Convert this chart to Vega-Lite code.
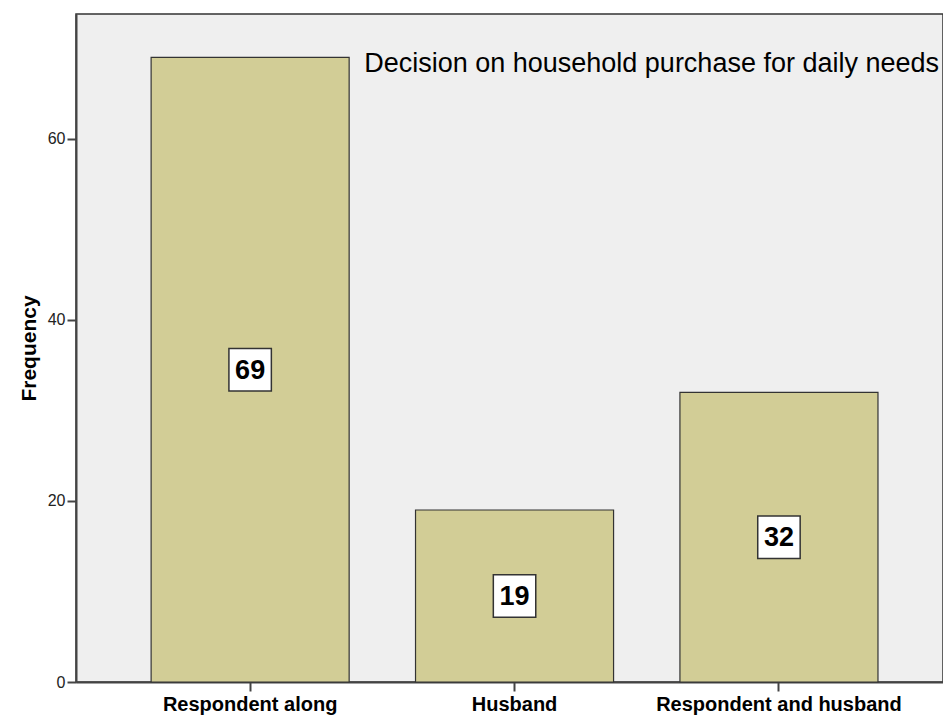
{
  "$schema": "https://vega.github.io/schema/vega-lite/v6.json",
  "autosize": "none",
  "width": 867,
  "height": 668,
  "padding": {"left": 76, "top": 14, "right": 0, "bottom": 38},
  "background": "white",
  "config": {
    "view": {"fill": "#EFEFEF", "stroke": "#333333", "strokeWidth": 1.5},
    "font": "Liberation Sans"
  },
  "data": {
    "values": [
      {"category": "Respondent along", "count": 69, "half": 34.5},
      {"category": "Husband", "count": 19, "half": 9.5},
      {"category": "Respondent and husband", "count": 32, "half": 16}
    ]
  },
  "encoding": {
    "x": {
      "field": "category",
      "type": "nominal",
      "sort": null,
      "scale": {"paddingInner": 0.251, "paddingOuter": 0.265, "align": 0.536},
      "axis": {
        "title": null,
        "labelAngle": 0,
        "labelLimit": 0,
        "labelFont": "Liberation Sans",
        "labelFontSize": 20,
        "labelFontWeight": "bold",
        "labelColor": "#000000",
        "labelPadding": 3,
        "tickSize": 9,
        "tickWidth": 2,
        "tickColor": "#444444",
        "domainColor": "#444444",
        "domainWidth": 2
      }
    }
  },
  "layer": [
    {
      "mark": {"type": "bar", "fill": "#D2CD96", "stroke": "#333333", "strokeWidth": 1.2},
      "encoding": {
        "y": {
          "field": "count",
          "type": "quantitative",
          "scale": {"domain": [0, 73.8], "nice": false, "zero": true},
          "axis": {
            "title": "Frequency",
            "titleFont": "Liberation Sans",
            "titleFontSize": 21,
            "titleFontWeight": "bold",
            "titleColor": "#000000",
            "titlePadding": 8,
            "values": [0, 20, 40, 60],
            "grid": false,
            "labelFont": "Liberation Sans",
            "labelFontSize": 16,
            "labelColor": "#222222",
            "labelPadding": 2,
            "tickSize": 9,
            "tickWidth": 2,
            "tickColor": "#444444",
            "domainColor": "#444444",
            "domainWidth": 2
          }
        }
      }
    },
    {
      "mark": {"type": "point", "shape": "square", "size": 1800, "filled": true, "fill": "#FFFFFF", "stroke": "#333333", "strokeWidth": 1.5, "opacity": 1},
      "encoding": {
        "y": {"field": "half", "type": "quantitative"}
      }
    },
    {
      "mark": {"type": "text", "font": "Liberation Sans", "fontSize": 27, "fontWeight": "bold", "color": "#000000", "baseline": "middle", "align": "center", "dy": 1},
      "encoding": {
        "y": {"field": "half", "type": "quantitative"},
        "text": {"field": "count", "type": "quantitative"}
      }
    },
    {
      "data": {"values": [{"label": "Decision on household purchase for daily needs", "cat": "Respondent along", "pos": 67.4}]},
      "mark": {"type": "text", "font": "Liberation Sans", "fontSize": 27, "color": "#000000", "align": "left", "baseline": "alphabetic", "dx": 15},
      "encoding": {
        "x": {"field": "cat", "type": "nominal", "bandPosition": 1},
        "y": {"field": "pos", "type": "quantitative"},
        "text": {"field": "label"}
      }
    }
  ]
}
